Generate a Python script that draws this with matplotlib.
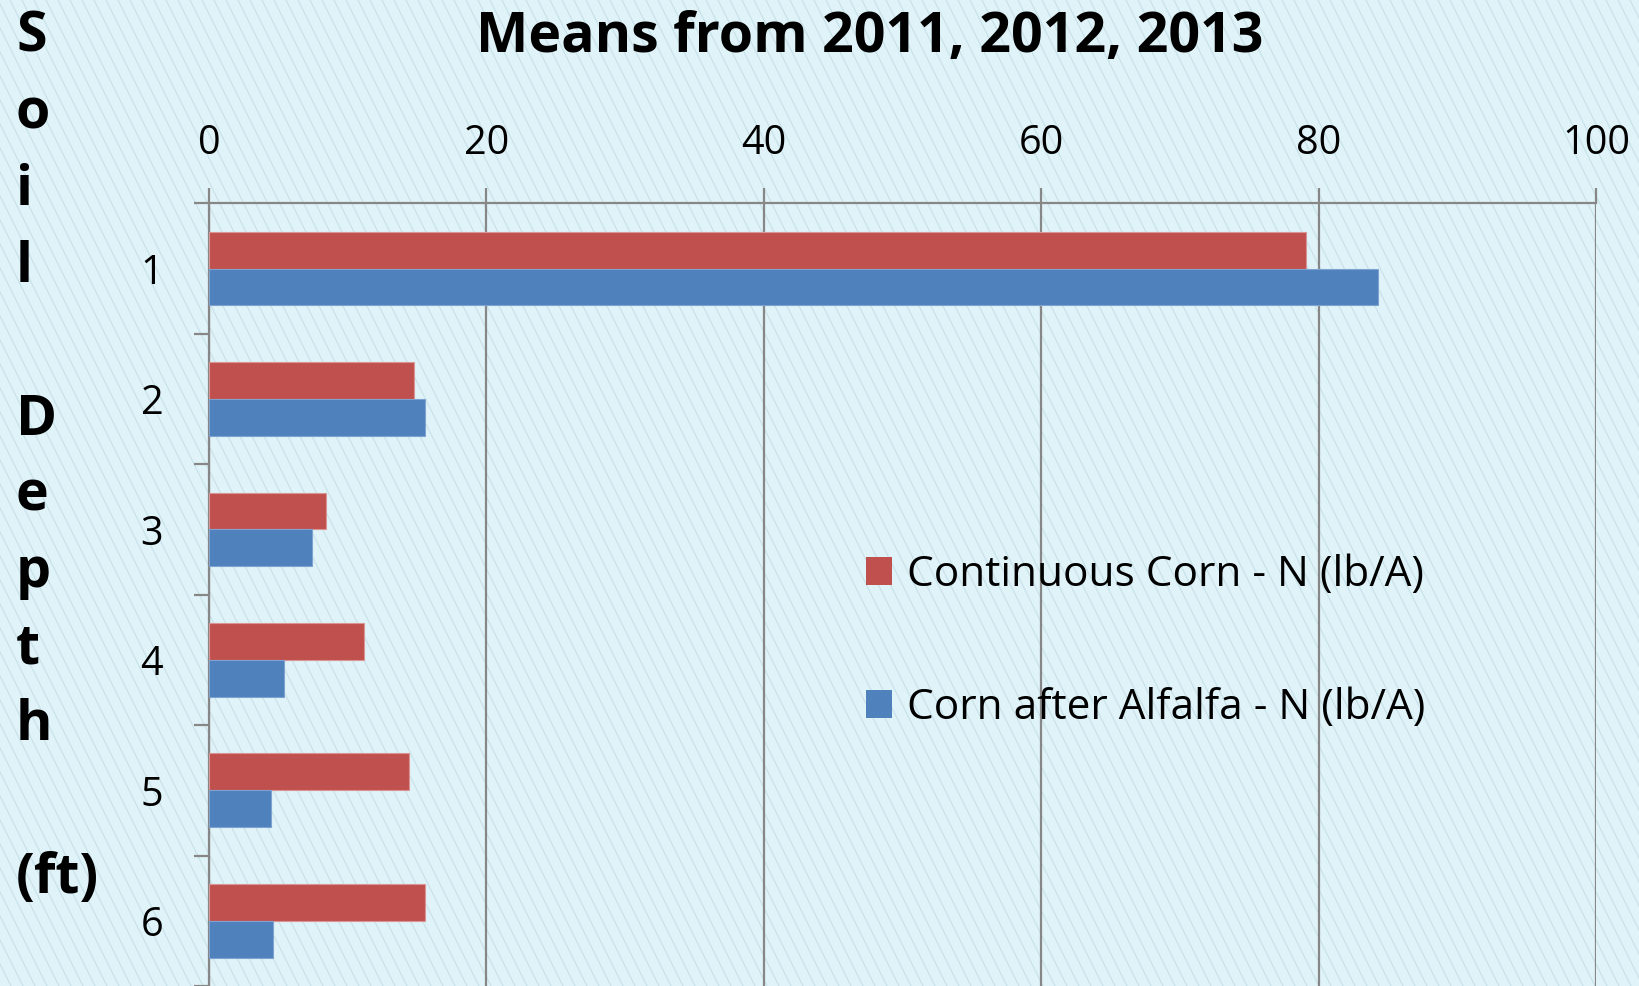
import matplotlib
matplotlib.use("Agg")
import matplotlib.pyplot as plt
from matplotlib.collections import LineCollection
from matplotlib.patches import Patch
from matplotlib.transforms import IdentityTransform
import numpy as np

plt.rcParams['font.family'] = ['Open Sans', 'DejaVu Sans']

depths = [1, 2, 3, 4, 5, 6]
continuous = [79.1, 14.8, 8.4, 11.2, 14.4, 15.6]
alfalfa = [84.3, 15.6, 7.4, 5.4, 4.5, 4.6]
labels = ['Continuous Corn - N (lb/A)', 'Corn after Alfalfa - N (lb/A)']
title = 'Means from 2011, 2012, 2013'
side_label = ['S', 'o', 'i', 'l', '', 'D', 'e', 'p', 't', 'h', '', '(ft)']

red = '#C0504D'
blue = '#4F81BD'
grid_col = '#878787'
bg = '#E0F3F8'

W, H = 1639, 986
fig = plt.figure(figsize=(W / 100, H / 100), dpi=100)
fig.patch.set_facecolor(bg)

# diagonal hatch on the background
segs = []
step = 12
for x0 in np.arange(-H, W + 10, step):
    segs.append([(x0, H), (x0 + 0.5 * H, 0)])
hatch = LineCollection(segs, colors='#CBE4EC', linewidths=1.0,
                       transform=IdentityTransform(), zorder=0)
fig.add_artist(hatch)

ax = fig.add_axes([209 / W, 0, 1387 / W, (H - 203.3) / H])
ax.set_facecolor('none')

bh = 0.283
y = np.array(depths)
ax.barh(y - bh / 2, continuous, height=bh, color=red, edgecolor='#D99694',
        linewidth=0.8, zorder=3, label=labels[0])
ax.barh(y + bh / 2, alfalfa, height=bh, color=blue, edgecolor='#7FA3D0',
        linewidth=0.8, zorder=3, label=labels[1])

ax.set_xlim(0, 100)
ax.set_ylim(6.5, 0.5)
ax.xaxis.tick_top()
ax.set_xticks([0, 20, 40, 60, 80, 100])
ax.tick_params(axis='x', which='major', direction='out', length=11, width=1.6,
               color=grid_col, labelsize=28.5, pad=17)
ax.set_yticks(depths)
ax.set_yticks(np.arange(0.5, 7, 1), minor=True)
ax.tick_params(axis='y', which='major', length=0, labelsize=28.5, pad=33)
ax.tick_params(axis='y', which='minor', direction='out', length=11, width=1.6,
               color=grid_col)
ax.grid(axis='x', color=grid_col, linewidth=1.6, zorder=1)
for side in ['bottom', 'right']:
    ax.spines[side].set_visible(False)
for side in ['top', 'left']:
    ax.spines[side].set_color(grid_col)
    ax.spines[side].set_linewidth(1.6)

handles = [Patch(facecolor=red), Patch(facecolor=blue)]
ax.legend(handles, labels, loc='upper left', bbox_to_anchor=(828 / W, 1 - 516 / H),
          bbox_transform=fig.transFigure, frameon=False, fontsize=30.5,
          handlelength=0.62, handleheight=0.62, handletextpad=0.35,
          labelspacing=2.14)

fig.text(870 / W, 1 - 52 / H, title, ha='center', va='baseline',
         fontsize=40, fontweight='bold')

for i, s in enumerate(side_label):
    if s:
        fig.text(16 / W, 1 - (52 + i * 76.5) / H, s, ha='left', va='baseline',
                 fontsize=40, fontweight='bold')

fig.savefig('out.png', dpi=100, facecolor=bg)
